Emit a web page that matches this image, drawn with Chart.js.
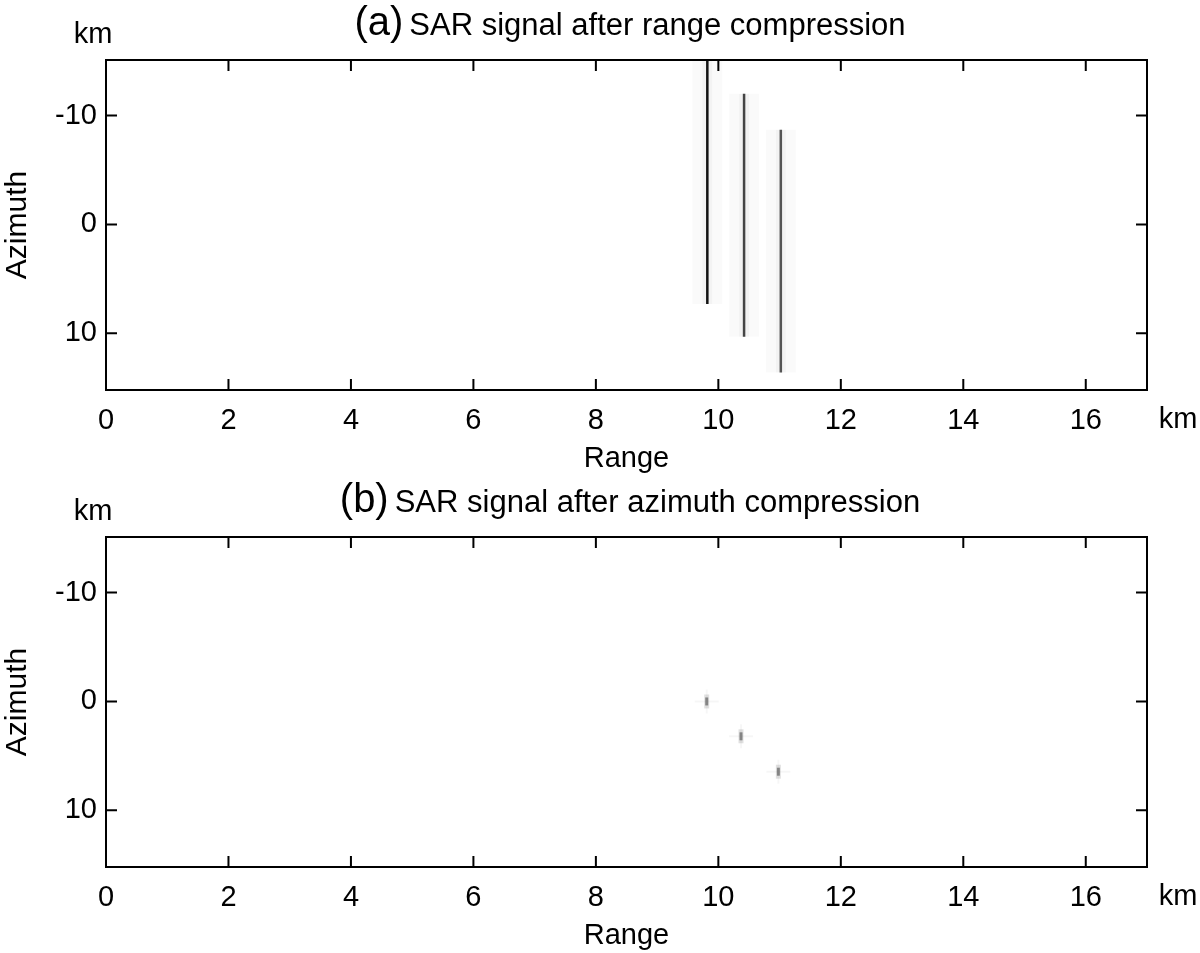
<!DOCTYPE html>
<html>
<head>
<meta charset="utf-8">
<script src="https://cdn.jsdelivr.net/npm/chart.js@4.4.0/dist/chart.umd.min.js"></script>
<style>
body { margin: 0; background: #fff; }
.panel { position: absolute; left: 0; width: 1200px; height: 476px; }
</style>
</head>
<body>
<div class="panel" style="top:0"><canvas id="chartA" width="1200" height="476"></canvas></div>
<div class="panel" style="top:477px"><canvas id="chartB" width="1200" height="476"></canvas></div>
<script>
// Ejes
var rangeTicks = [0, 2, 4, 6, 8, 10, 12, 14, 16];
var azimuthTicks = [-10, 0, 10];
var rangeLimits = [0, 17];
var azimuthLimits = [-15.1, 15.2];

// (a) tres blancos tras compresion en distancia
var targetRangeA = [9.82, 10.42, 11.02];
var azimuthStartA = [-15.1, -12.0, -8.7];
var azimuthEndA = [7.3, 10.3, 13.6];

// (b) tras compresion en acimut
var targetRangeB = [9.81, 10.37, 10.98];
var targetAzimuthB = [0, 3.2, 6.45];

var FONT = "'Liberation Sans', Arial, sans-serif";

//Marco con marcas hacia dentro en los cuatro lados
var framePlugin = {
    id: 'frame',
    afterDatasetsDraw: function(chart) {
        var ctx = chart.ctx, a = chart.chartArea;
        var xs = chart.scales.x, ys = chart.scales.y;
        ctx.save();
        ctx.strokeStyle = '#000';
        ctx.lineWidth = 2;
        ctx.strokeRect(a.left, a.top, a.right - a.left, a.bottom - a.top);
        ctx.beginPath();
        xs.ticks.forEach(function(t) {
            var px = xs.getPixelForValue(t.value);
            ctx.moveTo(px, a.bottom); ctx.lineTo(px, a.bottom - 11);
            ctx.moveTo(px, a.top); ctx.lineTo(px, a.top + 11);
        });
        ys.ticks.forEach(function(t) {
            var py = ys.getPixelForValue(t.value);
            ctx.moveTo(a.left, py); ctx.lineTo(a.left + 11, py);
            ctx.moveTo(a.right, py); ctx.lineTo(a.right - 11, py);
        });
        ctx.stroke();
        ctx.restore();
    }
};

//Titulo con la letra grande y unidades km
var labelPlugin = {
    id: 'labels',
    afterDraw: function(chart) {
        var opts = chart.options.plugins.labels;
        var ctx = chart.ctx, a = chart.chartArea;
        ctx.save();
        ctx.fillStyle = '#000';
        ctx.textBaseline = 'alphabetic';
        ctx.font = '40px ' + FONT;
        var w1 = ctx.measureText(opts.letter).width;
        ctx.font = '31px ' + FONT;
        var w2 = ctx.measureText(opts.text).width;
        var gap = 6;
        var x0 = 630 - (w1 + gap + w2) / 2;
        ctx.textAlign = 'left';
        ctx.font = '40px ' + FONT;
        ctx.fillText(opts.letter, x0, 35);
        ctx.font = '31px ' + FONT;
        ctx.fillText(opts.text, x0 + w1 + gap, 35);
        ctx.textAlign = 'center';
        ctx.font = '29px ' + FONT;
        ctx.fillText('km', 93, 43);
        ctx.fillText('km', 1178, a.bottom + 38);
        ctx.restore();
    }
};

function panelOptions(letter, text) {
    return {
        responsive: false,
        animation: false,
        layout: { padding: { top: 60, right: 53, left: 0, bottom: 0 } },
        plugins: {
            legend: { display: false },
            tooltip: { enabled: false },
            labels: { letter: letter, text: text }
        },
        scales: {
            x: {
                type: 'linear',
                min: rangeLimits[0],
                max: rangeLimits[1],
                afterBuildTicks: function(scale) {
                    scale.ticks = rangeTicks.map(function(v) { return { value: v }; });
                },
                afterFit: function(scale) { scale.height = 86; },
                grid: { display: false, drawTicks: false },
                border: { display: false },
                ticks: { font: { size: 29, family: FONT }, color: '#000', padding: 14, maxRotation: 0 },
                title: { display: true, text: 'Range', font: { size: 29, family: FONT }, color: '#000', padding: 0 }
            },
            y: {
                type: 'linear',
                reverse: true,
                min: azimuthLimits[0],
                max: azimuthLimits[1],
                afterBuildTicks: function(scale) {
                    scale.ticks = azimuthTicks.map(function(v) { return { value: v }; });
                },
                afterFit: function(scale) { scale.width = 106; },
                grid: { display: false, drawTicks: false },
                border: { display: false },
                ticks: { font: { size: 29, family: FONT }, color: '#000', padding: 9 },
                title: { display: true, text: 'Azimuth', font: { size: 30, family: FONT }, color: '#000', padding: 0 }
            }
        }
    };
}

// Panel (a): lineas con halo tenue
var lineColors = ['#151515', '#4a4a4a', '#5a5a5a'];
var dsA = [];
for (var i = 0; i < targetRangeA.length; i++) {
    var pts = [
        { x: targetRangeA[i], y: azimuthStartA[i] },
        { x: targetRangeA[i], y: azimuthEndA[i] }
    ];
    dsA.push({ data: pts, showLine: true, pointRadius: 0, borderColor: 'rgba(0,0,0,0.018)', borderWidth: 30, borderCapStyle: 'butt' });
    dsA.push({ data: pts, showLine: true, pointRadius: 0, borderColor: 'rgba(0,0,0,0.03)', borderWidth: 10, borderCapStyle: 'butt' });
    dsA.push({ data: pts, showLine: true, pointRadius: 0, borderColor: lineColors[i], borderWidth: 2.5, borderCapStyle: 'butt' });
}

new Chart(document.getElementById('chartA'), {
    type: 'scatter',
    data: { datasets: dsA },
    options: panelOptions('(a)', 'SAR signal after range compression'),
    plugins: [framePlugin, labelPlugin]
});

// Panel (b): puntos enfocados
var ptsB = [];
for (var j = 0; j < targetRangeB.length; j++) {
    ptsB.push({ x: targetRangeB[j], y: targetAzimuthB[j] });
}

new Chart(document.getElementById('chartB'), {
    type: 'scatter',
    data: {
        datasets: [
            { data: ptsB, pointStyle: 'cross', pointRadius: 12, borderColor: 'rgba(0,0,0,0.035)', borderWidth: 2, backgroundColor: 'transparent' },
            { data: ptsB, pointStyle: 'line', rotation: 90, pointRadius: 7, borderColor: 'rgba(0,0,0,0.12)', borderWidth: 5 },
            { data: ptsB, pointStyle: 'line', rotation: 90, pointRadius: 4, borderColor: 'rgba(90,90,90,0.6)', borderWidth: 3 }
        ]
    },
    options: panelOptions('(b)', 'SAR signal after azimuth compression'),
    plugins: [framePlugin, labelPlugin]
});
</script>
</body>
</html>
